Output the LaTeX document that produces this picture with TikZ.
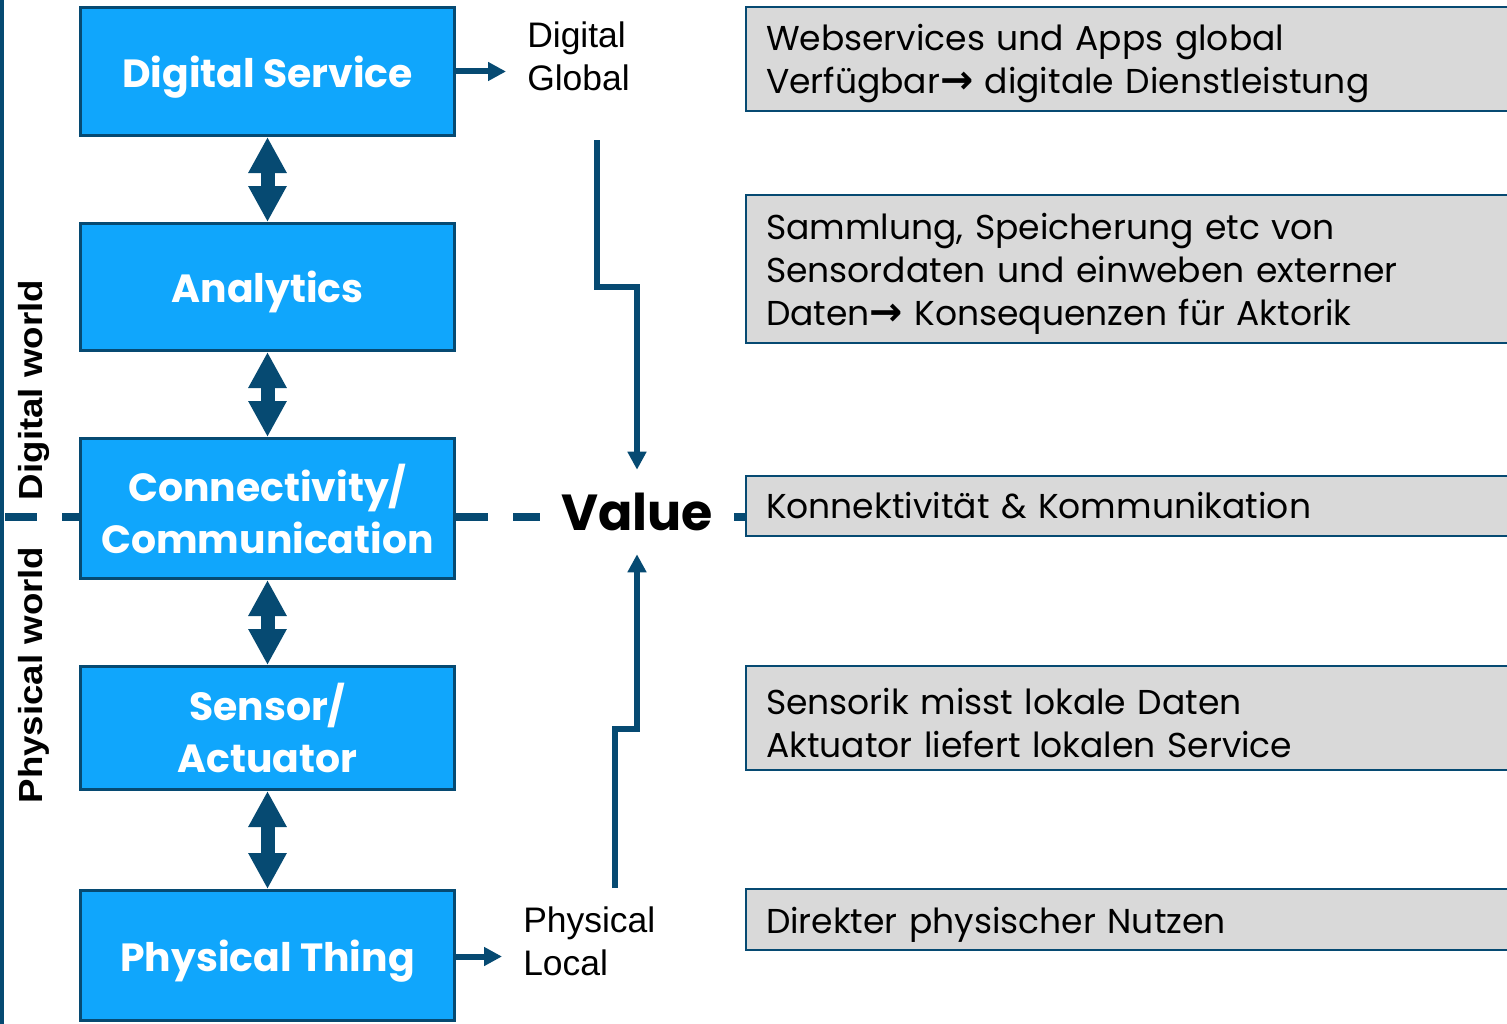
\documentclass[tikz,border=0pt]{standalone}
\usepackage{fontspec}
\setmainfont{Poppins}
\newfontfamily\arialf{Liberation Sans}
\newfontfamily\dejavuf{DejaVu Sans}
\usetikzlibrary{arrows.meta,calc}
\definecolor{dblue}{RGB}{6,74,114}
\definecolor{lblue}{RGB}{16,166,252}
\definecolor{lgray}{RGB}{217,217,217}
\newcommand{\rarr}{\scalebox{1.15}{\dejavuf\bfseries →}}
\newcommand{\toppad}{\rule{0pt}{27pt}}
\begin{document}
\begin{tikzpicture}[x=0.75pt,y=-0.75pt,
  layerbox/.style={rectangle, draw=dblue, line width=2.25pt, fill=lblue, text=white,
    font=\bfseries\fontsize{29.5}{39}\selectfont, align=center,
    minimum width=374*0.75pt, inner sep=0pt},
  onelayer/.style={layerbox, text depth=0pt},
  infobox/.style={rectangle, draw=dblue, line width=1.5pt, fill=lgray, anchor=west,
    text width=555pt, inner xsep=15pt, inner ysep=0pt, align=left,
    font=\fontsize{25.9}{32.25}\selectfont},
  dblarrow/.style={draw=dblue, fill=dblue, line width=10.5pt,
    {Triangle[length=27pt,width=27pt]}-{Triangle[length=27pt,width=27pt]}},
  flow/.style={draw=dblue, line width=4.5pt, -{Triangle[length=13.5pt,width=13.5pt]}},
  dashline/.style={draw=dblue, line width=6pt, dash pattern=on 24pt off 18.75pt},
  sidelabel/.style={font=\arialf\bfseries\fontsize{25}{30}\selectfont, rotate=90, inner sep=0pt},
  endlabel/.style={font=\arialf\fontsize{26.6}{32}\selectfont, align=left, anchor=north west, inner sep=0pt}
]
\clip (0,0) rectangle (1507,1024);
\fill[white] (0,0) rectangle (1507,1024);

% left vertical line
\draw[dblue, line width=3pt] (2,0) -- (2,1024);

% layer boxes
\node[onelayer, minimum height=128*0.75pt] (ds) at (267.5,71.5) {Digital Service};
\node[onelayer, minimum height=127*0.75pt] (an) at (267.5,287) {Analytics};
\node[layerbox, minimum height=140*0.75pt] (cc) at (267.5,508.5) {Connectivity/\\Communication};
\node[layerbox, minimum height=123*0.75pt] (sa) at (267.5,728) {Sensor/\\Actuator};
\node[onelayer, minimum height=130*0.75pt] (pt) at (267.5,955.5) {Physical Thing};

% double arrows
\draw[dblarrow] (ds.south) -- (an.north);
\draw[dblarrow] (an.south) -- (cc.north);
\draw[dblarrow] (cc.south) -- (sa.north);
\draw[dblarrow] (sa.south) -- (pt.north);

% info boxes
\node[infobox, minimum height=104*0.75pt] (i1) at (745,59) {\toppad Webservices und Apps global\\Verfügbar\rarr{} digitale Dienstleistung};
\node[infobox, minimum height=148*0.75pt] (i2) at (745,269) {\toppad Sammlung, Speicherung etc von\\Sensordaten und einweben externer\\Daten\rarr{} Konsequenzen für Aktorik};
\node[infobox, minimum height=60*0.75pt] (i3) at (745,506) {Konnektivität \& Kommunikation};
\node[infobox, minimum height=104*0.75pt] (i4) at (745,718) {\toppad Sensorik misst lokale Daten\\Aktuator liefert lokalen Service};
\node[infobox, minimum height=61*0.75pt] (i5) at (745,919.5) {\toppad Direkter physischer Nutzen};

% value
\node[font=\bfseries\fontsize{38}{46}\selectfont, minimum width=194*0.75pt,
  minimum height=84*0.75pt, inner sep=0pt] (value) at (637,512) {Value};

% side labels
\node[sidelabel] (dw) at (34,390) {\scalebox{1.1}[1]{Digital world}};
\node[sidelabel] (pw) at (34,675) {\scalebox{1.1}[1]{Physical world}};

% end labels
\node[endlabel] (dg) at (527,22) {Digital\\Global};
\node[endlabel] (pl) at (523,907) {Physical\\Local};

% dashed separator
\coordinate (wl) at (5,517);
\draw[dashline] (wl) -- (cc.west |- wl);
\draw[dashline] (cc.east |- wl) -- (value.west |- wl);
\draw[dashline] (value.east |- wl) -- (i3.west |- wl);

% arrows to labels
\coordinate (dgend) at (506,71.5);
\coordinate (plend) at (502,956.5);
\draw[flow] (ds.east) -- (dgend);
\draw[flow] (pt.east |- plend) -- (plend);

% elbow arrows to value
\coordinate (vtop) at (597,140);
\coordinate (vbot) at (614.5,888);
\draw[flow] (vtop) -- (vtop |- 0,287) -| (value.north);
\draw[flow] (vbot) -- (vbot |- 0,729) -| (value.south);
\end{tikzpicture}
\end{document}
